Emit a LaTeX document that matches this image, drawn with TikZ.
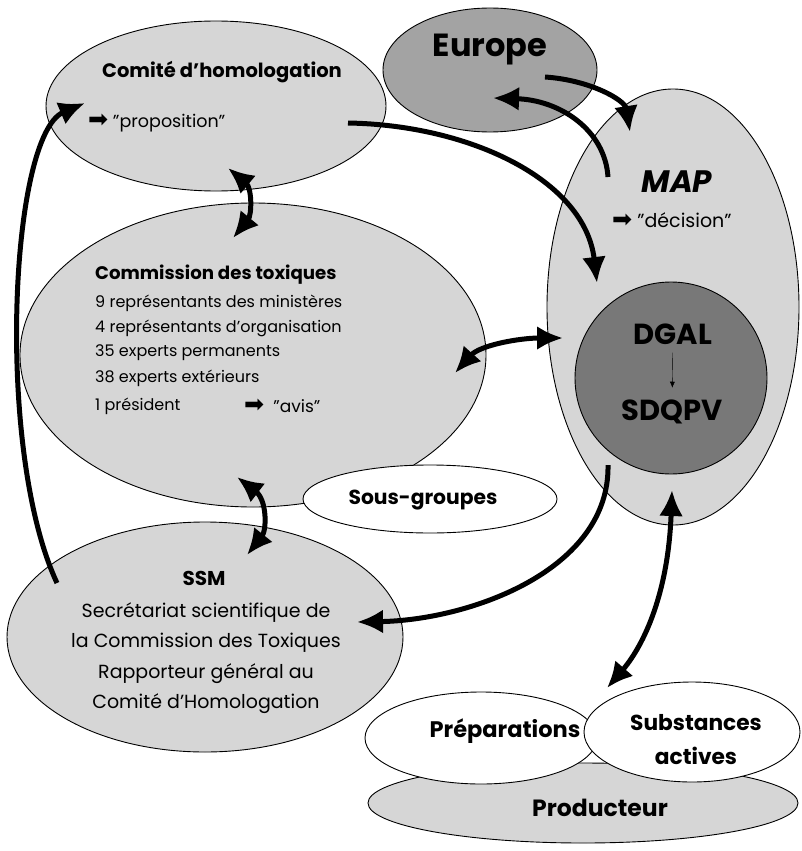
\documentclass[tikz,border=0pt]{standalone}
\usepackage{fontspec}
\setmainfont{Poppins}
\newfontfamily\symfont{DejaVu Sans}
\usetikzlibrary{arrows.meta, shapes.geometric, positioning}

\definecolor{grisclair}{gray}{0.84}
\definecolor{grismoyen}{gray}{0.64}
\definecolor{grisfonce}{gray}{0.47}

\newcommand{\fl}{{\symfont\fontsize{24}{24}\selectfont ➡}}

\tikzset{
	bulle/.style={draw, ellipse, inner sep=0pt, line width=0.9pt},
	gros/.style={inner sep=0pt, font=\bfseries\fontsize{19.5}{22}\selectfont},
	fin/.style={inner sep=0pt, font=\fontsize{16}{25}\selectfont},
	lien/.style={line width=5pt},
}

\begin{document}
\begin{tikzpicture}[x=1pt, y=-1pt, >={Latex[length=26pt,width=24pt]}]
	\useasboundingbox (0,0) rectangle (801,851);

	% les bulles
	\node[bulle, fill=grisclair, minimum width=340pt, minimum height=170pt] (CH) at (216,106) {};
	\node[bulle, fill=grismoyen, minimum width=214pt, minimum height=124pt] (EU) at (490,70) {};
	\node[bulle, fill=grisclair, minimum width=252pt, minimum height=436pt] (MAP) at (673,307) {};
	\node[draw, circle, line width=0.9pt, fill=grisfonce, minimum size=192pt] (DG) at (671,378) {};
	\node[bulle, fill=grisclair, minimum width=466pt, minimum height=304pt] (CT) at (253,355) {};
	\node[bulle, fill=white, minimum width=254pt, minimum height=68pt] (SG) at (430,499) {};
	\node[bulle, fill=grisclair, minimum width=396pt, minimum height=230pt] (SSM) at (205,637) {};
	\node[bulle, fill=grisclair, minimum width=430pt, minimum height=80pt] (PD) at (583,803) {};
	\node[bulle, fill=white, minimum width=232pt, minimum height=92pt] (PR) at (481,738) {};
	\node[bulle, fill=white, minimum width=216pt, minimum height=100pt] (SA) at (692,732) {};

	% textes
	\node[gros] (CH1) at (222,72) {Comité d'homologation};
	\node[fin, font=\fontsize{17.5}{20}\selectfont] (CH2) at (88,123)[right] {\fl\ "proposition"};
	\node[gros, font=\bfseries\fontsize{32}{34}\selectfont] (EU1) at (490,50) {Europe};
	\node[gros, font=\bfseries\itshape\fontsize{31}{34}\selectfont] (MAP1) at (677,182) {MAP};
	\node[fin, font=\fontsize{19}{22}\selectfont] (MAP2) at (612,220)[right] {\fl\ "décision"};
	\node[gros, font=\bfseries\fontsize{29}{32}\selectfont] (DG1) at (673,334) {DGAL};
	\node[gros, font=\bfseries\fontsize{29}{32}\selectfont] (DG2) at (672,412) {SDQPV};
	\draw[-{Latex[length=6pt,width=5pt]}, thin, shorten <=8pt, shorten >=12pt] (DG1) -- (DG2);

	\node[gros, font=\bfseries\fontsize{18.2}{20}\selectfont] (CT0) at (95,275)[right] {Commission des toxiques};
	\node[fin] (CT1) at (95,303)[right] {9 représentants des ministères};
	\node[fin] (CT2) at (95,328)[right] {4 représentants d'organisation};
	\node[fin] (CT3) at (95,353)[right] {35 experts permanents};
	\node[fin] (CT4) at (95,378)[right] {38 experts extérieurs};
	\node[fin] (CT5) at (95,406)[right] {1 président};
	\node[fin, font=\fontsize{17}{20}\selectfont] (CT6) at (244,406)[right] {\fl\ \ "avis"};

	\node[gros, font=\bfseries\fontsize{20.3}{22}\selectfont] (SG1) at (423,500) {Sous-groupes};
	\node[gros, font=\bfseries\fontsize{20}{22}\selectfont] (SSM1) at (204,578) {SSM};
	\node[fin, align=center, font=\fontsize{19}{30.5}\selectfont] (SSM2) at (206,658)
		{Secrétariat scientifique de\\la Commission des Toxiques\\Rapporteur général au\\Comité d'Homologation};
	\node[gros, font=\bfseries\fontsize{22.5}{24}\selectfont] (PR1) at (505,731) {Préparations};
	\node[gros, align=center, font=\bfseries\fontsize{21.7}{34}\selectfont] (SA1) at (696,740) {Substances\\actives};
	\node[gros, font=\bfseries\fontsize{23.5}{26}\selectfont] (PD1) at (600,808) {Producteur};

	% points d'attache des fleches
	\coordinate (a1) at (57,583);
	\coordinate (a2) at (85,103);
	\coordinate (b1) at (348,123);
	\coordinate (b2) at (597,283);
	\coordinate (c1) at (228,168);
	\coordinate (c2) at (233,238);
	\coordinate (d1) at (545,77);
	\coordinate (d2) at (630,132);
	\coordinate (e1) at (608,177);
	\coordinate (e2) at (493,98);
	\coordinate (f1) at (455,373);
	\coordinate (f2) at (563,338);
	\coordinate (g1) at (237,477);
	\coordinate (g2) at (247,555);
	\coordinate (h1) at (608,465);
	\coordinate (h2) at (357,622);
	\coordinate (k1) at (672,490);
	\coordinate (k2) at (607,688);

	% fleches
	\draw[lien, ->] (a1) .. controls (-5,450) and (10,135) .. (a2);
	\draw[lien, ->] (b1) .. controls (470,125) and (585,180) .. (b2);
	\draw[lien, <->] (c1) .. controls (252,188) and (252,215) .. (c2);
	\draw[lien, ->] (d1) .. controls (590,80) and (625,100) .. (d2);
	\draw[lien, ->] (e1) .. controls (605,130) and (560,100) .. (e2);
	\draw[lien, <->] (f1) .. controls (480,345) and (520,338) .. (f2);
	\draw[lien, <->] (g1) .. controls (267,500) and (267,530) .. (g2);
	\draw[lien, ->] (h1) .. controls (610,570) and (470,620) .. (h2);
	\draw[lien, <->] (k1) .. controls (668,600) and (640,650) .. (k2);

\end{tikzpicture}
\end{document}
